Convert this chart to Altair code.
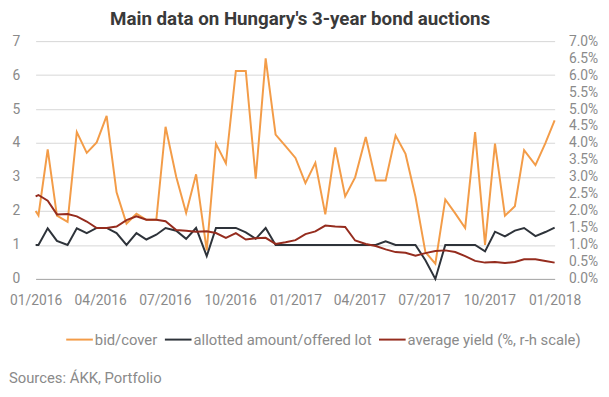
import altair as alt
import pandas as pd

# ---- data ----
dates = [
    "2016-01-01", "2016-01-05", "2016-01-18", "2016-01-31", "2016-02-15", "2016-02-28",
    "2016-03-13", "2016-03-27", "2016-04-10", "2016-04-24", "2016-05-08", "2016-05-22",
    "2016-06-05", "2016-06-19", "2016-07-02", "2016-07-17", "2016-07-31", "2016-08-14",
    "2016-08-29", "2016-09-11", "2016-09-25", "2016-10-09", "2016-10-23", "2016-11-06",
    "2016-11-20", "2016-12-04", "2016-12-18", "2017-01-01", "2017-01-15", "2017-01-29",
    "2017-02-12", "2017-02-26", "2017-03-12", "2017-03-26", "2017-04-10", "2017-04-24",
    "2017-05-08", "2017-05-22", "2017-06-05", "2017-06-19", "2017-07-03", "2017-07-17",
    "2017-07-31", "2017-08-14", "2017-08-28", "2017-09-11", "2017-09-25", "2017-10-09",
    "2017-10-23", "2017-11-06", "2017-11-19", "2017-12-05", "2017-12-19", "2018-01-01",
]

bid_cover = [
    2.00, 1.87, 3.81, 1.86, 1.68, 4.32, 3.71, 4.02, 4.80, 2.55, 1.63, 1.92,
    1.74, 1.74, 4.48, 3.01, 1.94, 3.08, 0.84, 3.98, 3.40, 6.12, 6.12, 2.95,
    6.49, 4.25, 3.91, 3.56, 2.82, 3.42, 1.90, 3.87, 2.43, 2.99, 4.18, 2.90,
    2.90, 4.22, 3.68, 2.42, 0.79, 0.45, 2.34, 1.93, 1.50, 4.32, 1.00, 3.98,
    1.86, 2.14, 3.79, 3.35, 4.00, 4.67,
]

allotted = [
    1.00, 1.00, 1.49, 1.12, 1.00, 1.49, 1.35, 1.50, 1.50, 1.35, 1.00, 1.35,
    1.16, 1.30, 1.50, 1.42, 1.18, 1.50, 0.67, 1.50, 1.50, 1.50, 1.37, 1.18,
    1.50, 1.00, 1.00, 1.00, 1.00, 1.00, 1.00, 1.00, 1.00, 1.00, 1.00, 1.00,
    1.11, 1.00, 1.00, 1.00, 0.55, 0.00, 1.00, 1.00, 1.00, 1.00, 0.81, 1.39,
    1.25, 1.42, 1.50, 1.26, 1.38, 1.51,
]

avg_yield = [
    2.43, 2.47, 2.30, 1.90, 1.91, 1.84, 1.69, 1.50, 1.50, 1.54, 1.73, 1.84,
    1.74, 1.74, 1.70, 1.44, 1.42, 1.39, 1.40, 1.35, 1.21, 1.35, 1.16, 1.20,
    1.21, 1.03, 1.08, 1.14, 1.32, 1.40, 1.57, 1.54, 1.53, 1.13, 1.03, 0.97,
    0.87, 0.79, 0.77, 0.68, 0.76, 0.82, 0.84, 0.79, 0.67, 0.53, 0.48, 0.50,
    0.47, 0.50, 0.58, 0.58, 0.53, 0.48,
]

series_names = ["bid/cover", "allotted amount/offered lot", "average yield (%, r-h scale)"]
series_colors = ["#f39c48", "#2e333a", "#952c1e"]

x_tick_months = [(2016, 1), (2016, 4), (2016, 7), (2016, 10), (2017, 1),
                 (2017, 4), (2017, 7), (2017, 10), (2018, 1)]
left_ticks = [0, 1, 2, 3, 4, 5, 6, 7]
right_ticks = [0, 0.5, 1, 1.5, 2, 2.5, 3, 3.5, 4, 4.5, 5, 5.5, 6, 6.5, 7]

title_text = "Main data on Hungary's 3-year bond auctions"
source_text = "Sources: ÁKK, Portfolio"

# ---- build table ----
rows = []
for name, vals in zip(series_names, [bid_cover, allotted, avg_yield]):
    for d, v in zip(dates, vals):
        rows.append({"date": d, "value": v, "series": name})
df = pd.DataFrame(rows)
df["date"] = pd.to_datetime(df["date"])

FONT = "Roboto"
LABEL_COLOR = "#8a8a8a"

x_enc = alt.X(
    "date:T",
    title=None,
    scale=alt.Scale(domain=[alt.DateTime(year=2016, month=1, date=1),
                            alt.DateTime(year=2018, month=1, date=1)]),
    axis=alt.Axis(
        values=[alt.DateTime(year=y, month=m, date=1) for y, m in x_tick_months],
        format="%m/%Y", labelFlush=False, grid=False, ticks=False,
        domain=True, domainColor="#a8a8a8", domainWidth=1,
        labelFont=FONT, labelFontSize=14, labelColor=LABEL_COLOR, labelPadding=15,
    ),
)

color_enc = alt.Color(
    "series:N",
    title=None,
    scale=alt.Scale(domain=series_names, range=series_colors),
    legend=alt.Legend(
        orient="none", legendX=30, legendY=288, direction="horizontal",
        symbolType="stroke", symbolSize=729, symbolStrokeWidth=2,
        labelFont=FONT, labelFontSize=15, labelColor=LABEL_COLOR,
        labelOffset=1, columnPadding=3, labelLimit=400, gridAlign="none",
    ),
)

base = alt.Chart(df)

left = base.transform_filter(
    alt.FieldOneOfPredicate(field="series", oneOf=series_names[:2])
).mark_line(strokeWidth=2).encode(
    x=x_enc,
    y=alt.Y(
        "value:Q", title=None,
        scale=alt.Scale(domain=[0, 7], nice=False, zero=True),
        axis=alt.Axis(values=left_ticks, grid=True, gridColor="#d6d6d6",
                      domain=False, ticks=False, labelFont=FONT, labelFontSize=14,
                      labelColor=LABEL_COLOR, labelPadding=16),
    ),
    color=color_enc,
)

right = base.transform_filter(
    alt.FieldEqualPredicate(field="series", equal=series_names[2])
).mark_line(strokeWidth=2).encode(
    x=x_enc,
    y=alt.Y(
        "value:Q", title=None,
        scale=alt.Scale(domain=[0, 7], nice=False, zero=True),
        axis=alt.Axis(orient="right", values=right_ticks, grid=False,
                      domain=False, ticks=False, labelFont=FONT, labelFontSize=14,
                      labelColor=LABEL_COLOR, labelPadding=14,
                      labelExpr="format(datum.value, '.1f') + '%'"),
    ),
    color=color_enc,
)

source = alt.Chart(pd.DataFrame({"t": [source_text]})).mark_text(
    align="left", baseline="middle", font=FONT, fontSize=15, color=LABEL_COLOR
).encode(x=alt.value(-27), y=alt.value(341), text="t:N")

chart = alt.layer(left, right, source).resolve_scale(y="independent").properties(
    width=526,
    height=241,
    title=alt.TitleParams(text=title_text, font=FONT, fontSize=19, fontWeight="bold",
                          color="#3a3a3a", anchor="middle", offset=5, dx=5),
    autosize=alt.AutoSizeParams(type="none"),
    padding={"left": 28, "top": 31, "right": 47, "bottom": 109},
).configure_view(stroke=None)

chart.save("out.html", embed_options={"renderer": "svg", "actions": False})
